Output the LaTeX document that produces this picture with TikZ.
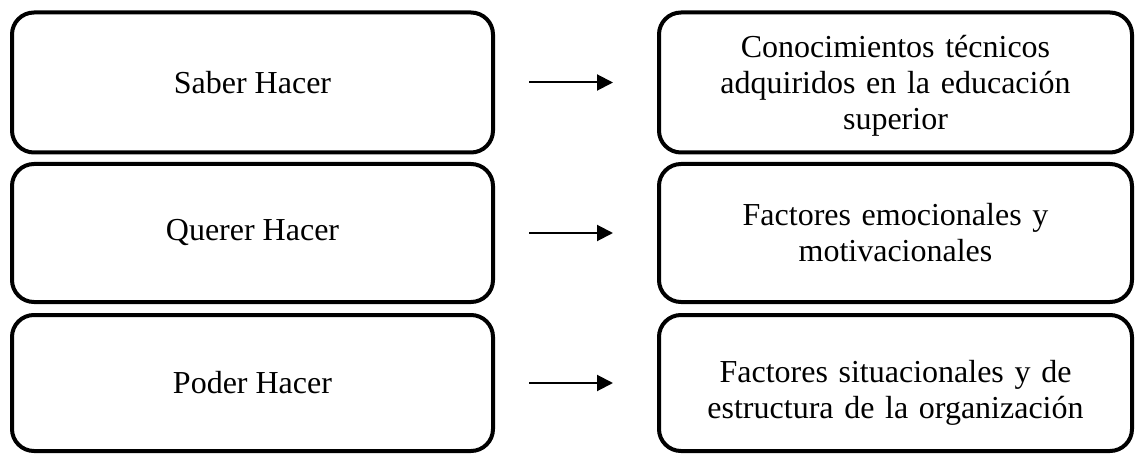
\documentclass[tikz,border=0pt]{standalone}
\usepackage{fontspec}
\setmainfont{Liberation Serif}
\usetikzlibrary{arrows.meta}
\tikzset{
  box/.style={draw, line width=3pt, rounded corners=16.5pt, inner sep=0pt,
    minimum height=105pt, align=center,
    font=\fontsize{24}{27}\selectfont},
  leftbox/.style={box, minimum width=360.75pt},
  rightbox/.style={box, minimum width=354.75pt, text width=340pt},
  arr/.style={line width=1.5pt, -{Triangle[length=12pt,width=12pt]},
    shorten <=25.5pt, shorten >=33pt}
}
\begin{document}
\begin{tikzpicture}[x=0.75pt,y=-0.75pt]
\useasboundingbox (0,0) rectangle (1136,456);
\node[leftbox] (l1) at (252.5,82.5) {Saber Hacer};
\node[leftbox, minimum height=103.5pt] (l2) at (252.5,233) {Querer Hacer};
\node[leftbox, minimum height=102pt] (l3) at (252.5,383) {Poder Hacer};
\node[rightbox] (r1) at (895.5,82.5) {\rule{0pt}{22pt}Conocimientos técnicos\\adquiridos en la educación\\superior};
\node[rightbox, minimum height=103.5pt] (r2) at (895.5,233) {Factores emocionales y\\motivacionales};
\node[rightbox, minimum height=102pt] (r3) at (895.5,383) {\rule{0pt}{31pt}Factores situacionales y de\\estructura de la organización};
\draw[arr] (l1) -- (r1);
\draw[arr] (l2) -- (r2);
\draw[arr] (l3) -- (r3);
\end{tikzpicture}
\end{document}
